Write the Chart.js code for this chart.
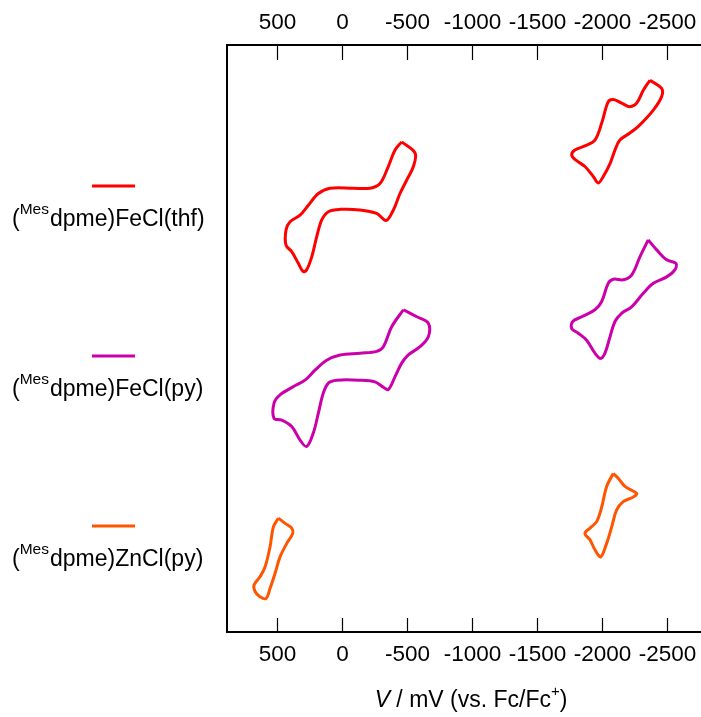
<!DOCTYPE html>
<html>
<head>
<meta charset="utf-8">
<script src="https://cdn.jsdelivr.net/npm/chart.js@4.4.1/dist/chart.umd.min.js"></script>
<style>
  html, body { margin: 0; padding: 0; background: #fff; }
  #wrap { width: 701px; height: 717px; position: relative; }
</style>
</head>
<body>
<div id="wrap"><canvas id="cv"></canvas></div>
<script>
// potential axis (mV vs Fc/Fc+), reversed
const tickValues = [500, 0, -500, -1000, -1500, -2000, -2500];
const xMax = 885;
const xMin = -2762;

const compounds = ['thf', 'py', 'Zn'];
const colors = ['#ff0000', '#cc00aa', '#ff5500'];

// (Mes dpme)FeCl(thf) - first wave
const thf1E = [-459, -562, -549, -498, -446, -395, -339, -267, -138, 15, 105, 156, 195, 233, 272, 298, 336, 387, 431, 431, 400, 323, 259, 182, 92, -87, -215, -292, -356, -408, -459];
const thf1I = [83.5, 81.6, 79.3, 77.0, 74.7, 71.9, 70.1, 71.3, 71.9, 72.0, 71.6, 70.2, 67.3, 63.9, 61.7, 61.4, 62.8, 64.8, 65.9, 68.5, 69.9, 71.0, 72.7, 74.7, 75.6, 75.6, 75.6, 76.4, 79.3, 82.1, 83.5];
// (Mes dpme)FeCl(thf) - second wave
const thf2E = [-2369, -2459, -2459, -2395, -2292, -2215, -2138, -2100, -2062, -2010, -1971, -1933, -1869, -1792, -1767, -1792, -1869, -1946, -1998, -2048, -2087, -2151, -2215, -2267, -2318, -2369];
const thf2I = [94.0, 92.6, 91.2, 88.9, 86.4, 85.0, 83.8, 82.1, 79.8, 77.6, 76.5, 77.6, 79.3, 80.5, 81.3, 82.1, 82.8, 83.8, 86.7, 90.3, 90.7, 90.1, 89.5, 90.1, 92.3, 94.0];

// (Mes dpme)FeCl(py) - first wave
const py1E = [-472, -575, -664, -664, -600, -510, -459, -408, -356, -318, -254, -138, 41, 105, 144, 182, 221, 272, 323, 387, 464, 523, 523, 477, 375, 285, 208, 118, 15, -138, -267, -318, -382, -472];
const py1I = [54.9, 53.7, 52.6, 50.3, 48.6, 47.2, 45.8, 43.5, 41.3, 41.7, 42.6, 42.9, 42.9, 42.4, 40.7, 37.3, 33.9, 31.6, 32.7, 35.0, 36.1, 36.4, 39.0, 40.4, 41.8, 42.9, 44.6, 46.3, 47.2, 47.5, 47.8, 48.6, 52.0, 54.9];
// (Mes dpme)FeCl(py) - second wave
const py2E = [-2356, -2421, -2498, -2569, -2561, -2498, -2395, -2318, -2228, -2151, -2100, -2062, -2023, -1990, -1946, -1882, -1818, -1767, -1775, -1844, -1946, -1998, -2048, -2087, -2164, -2228, -2292, -2356];
const py2I = [66.8, 65.1, 63.4, 62.8, 61.7, 60.5, 59.4, 57.7, 55.4, 54.3, 52.9, 50.3, 47.5, 46.6, 47.5, 49.7, 50.9, 51.7, 52.9, 53.7, 54.9, 56.3, 59.4, 60.1, 60.0, 60.8, 63.9, 66.8];

// (Mes dpme)ZnCl(py) - first wave
const zn1E = [490, 438, 387, 379, 425, 477, 515, 554, 585, 631, 669, 677, 631, 592, 554, 528, 490];
const zn1I = [19.4, 18.5, 17.7, 16.8, 15.1, 12.8, 10.0, 7.4, 5.7, 6.0, 6.9, 8.0, 9.4, 11.1, 14.5, 17.9, 19.4];
// (Mes dpme)ZnCl(py) - second wave
const zn2E = [-2087, -2125, -2177, -2267, -2241, -2164, -2113, -2075, -2036, -1990, -1946, -1908, -1869, -1908, -1959, -1998, -2036, -2087];
const zn2I = [27.0, 26.2, 24.8, 23.6, 23.0, 22.2, 20.8, 17.9, 15.1, 12.8, 14.0, 15.7, 16.8, 17.7, 18.8, 21.3, 24.8, 27.0];

const loops = [
  [thf1E, thf1I, 0], [thf2E, thf2I, 0],
  [py1E, py1I, 1], [py2E, py2I, 1],
  [zn1E, zn1I, 2], [zn2E, zn2I, 2]
];

const toPoints = (es, is) => es.map((e, k) => ({x: e, y: is[k]}));

const datasets = loops.map(([es, is, c]) => ({
  label: compounds[c],
  data: toPoints(es, is),
  showLine: true,
  borderColor: colors[c],
  borderWidth: 3,
  pointRadius: 0,
  tension: 0.35,
  fill: false,
}));

const FONT = '"Liberation Sans", Arial, sans-serif';

const legendNames = ['dpme)FeCl(thf)', 'dpme)FeCl(py)', 'dpme)ZnCl(py)'];

const framePlugin = {
  id: 'frame',
  afterDraw(chart) {
    const ctx = chart.ctx;
    const area = chart.chartArea;
    const xs = chart.scales.x;
    ctx.save();
    ctx.strokeStyle = '#000';
    ctx.lineWidth = 2;
    ctx.beginPath();
    ctx.moveTo(area.left, area.top);
    ctx.lineTo(area.right, area.top);
    ctx.moveTo(area.left, area.bottom);
    ctx.lineTo(area.right, area.bottom);
    ctx.moveTo(area.left, area.top - 1);
    ctx.lineTo(area.left, area.bottom + 1);
    ctx.stroke();

    ctx.lineWidth = 1.2;
    ctx.fillStyle = '#000';
    ctx.font = '22.5px ' + FONT;
    ctx.textAlign = 'center';
    ctx.textBaseline = 'middle';
    tickValues.forEach(v => {
      const px = Math.round(xs.getPixelForValue(v)) + 0.5;
      ctx.beginPath();
      ctx.moveTo(px, area.top);
      ctx.lineTo(px, area.top + 15);
      ctx.moveTo(px, area.bottom);
      ctx.lineTo(px, area.bottom - 14);
      ctx.stroke();
      ctx.fillText(String(v), px, area.top - 22);
      ctx.fillText(String(v), px, area.bottom + 23);
    });

    // axis title
    const titleParts = [
      {t: 'V', f: 'italic 23px ' + FONT, dy: 0},
      {t: ' / mV (vs. Fc/Fc', f: '23px ' + FONT, dy: 0},
      {t: '+', f: '15px ' + FONT, dy: -11},
      {t: ')', f: '23px ' + FONT, dy: 0},
    ];
    let total = 0;
    titleParts.forEach(p => { ctx.font = p.f; total += ctx.measureText(p.t).width; });
    let tx = 471 - total / 2;
    ctx.textAlign = 'left';
    ctx.textBaseline = 'alphabetic';
    titleParts.forEach(p => {
      ctx.font = p.f;
      ctx.fillText(p.t, tx, 707 + p.dy);
      tx += ctx.measureText(p.t).width;
    });

    // legend
    legendNames.forEach((name, i) => {
      const ly = 186 + i * 170;
      ctx.strokeStyle = colors[i];
      ctx.lineWidth = 3;
      ctx.beginPath();
      ctx.moveTo(92, ly);
      ctx.lineTo(135, ly);
      ctx.stroke();
      let x = 12;
      const base = ly + 40;
      ctx.font = '23px ' + FONT;
      ctx.fillText('(', x, base);
      x += ctx.measureText('(').width;
      ctx.font = '15.5px ' + FONT;
      ctx.fillText('Mes', x, base - 12);
      x += ctx.measureText('Mes').width + 1;
      ctx.font = '23px ' + FONT;
      ctx.fillText(name, x, base);
    });
    ctx.restore();
  }
};

new Chart(document.getElementById('cv'), {
  type: 'scatter',
  data: {datasets},
  options: {
    responsive: true,
    maintainAspectRatio: false,
    animation: false,
    layout: {padding: {left: 227, top: 45, right: 0, bottom: 85}},
    plugins: {legend: {display: false}, tooltip: {enabled: false}},
    scales: {
      x: {type: 'linear', reverse: true, min: xMin, max: xMax, display: false},
      y: {type: 'linear', min: 0, max: 100, display: false},
    },
  },
  plugins: [framePlugin],
});
</script>
</body>
</html>
